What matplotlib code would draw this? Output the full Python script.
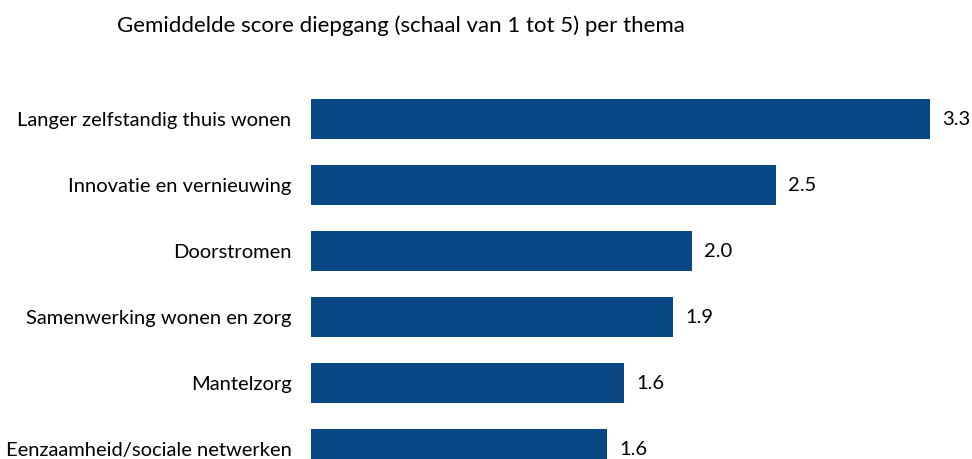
import matplotlib
matplotlib.use("Agg")
import matplotlib.pyplot as plt

categories = ["Langer zelfstandig thuis wonen", "Innovatie en vernieuwing", "Doorstromen",
              "Samenwerking wonen en zorg", "Mantelzorg", "Eenzaamheid/sociale netwerken"]
values = [3.30, 2.48, 2.03, 1.93, 1.67, 1.58]
value_labels = ["3.3", "2.5", "2.0", "1.9", "1.6", "1.6"]

plt.rcParams['font.family'] = ['Lato', 'DejaVu Sans']

W, H = 972, 459
fig = plt.figure(figsize=(W / 100, H / 100), dpi=100)
fig.patch.set_facecolor('white')

x0 = 311
px_per_unit = 187.6
xmax = 3.5
top_px = 53
ax = fig.add_axes([x0 / W, 0, xmax * px_per_unit / W, (H - top_px) / H])

ypos = list(range(len(categories)))
ax.barh(ypos, values, height=0.6, color='#0a4785')
for y, v, lab in zip(ypos, values, value_labels):
    ax.text(v + 0.065, y, lab, va='center', ha='left', fontsize=14.5, color='#000000')

ax.set_xlim(0, xmax)
ax.set_ylim(5.15, -1.0)
ax.set_yticks(ypos)
ax.set_yticklabels(categories, fontsize=14.5)
ax.tick_params(axis='y', length=0, pad=14)
ax.set_xticks([])
for s in ax.spines.values():
    s.set_visible(False)

fig.text(401 / W, 1 - 26 / H, "Gemiddelde score diepgang (schaal van 1 tot 5) per thema",
         ha='center', va='center', fontsize=16)

fig.savefig("out.png", dpi=100)
